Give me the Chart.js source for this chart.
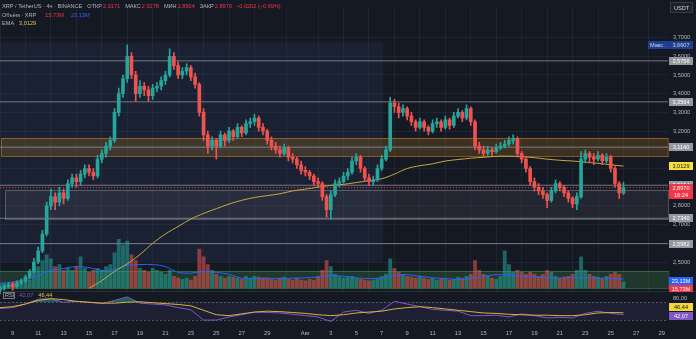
<!DOCTYPE html>
<html>
<head>
<meta charset="utf-8">
<script src="https://cdn.jsdelivr.net/npm/chart.js@4.4.1/dist/chart.umd.min.js"></script>
<style>
  html, body { margin: 0; padding: 0; background: #151924; }
  canvas { display: block; }
</style>
</head>
<body>
<canvas id="xrpChart" width="696" height="339"></canvas>
<script>
// 8h candles, days counted from 1 July (1 Aug = 32)
const candleStartDay = 8;
const candleStepDays = 1 / 3;

const opens = [
  2.35,2.36,2.37,2.38,2.37,2.39,2.40,2.42,2.45,2.50,
  2.56,2.65,2.80,2.85,2.82,2.87,2.84,2.92,2.95,2.93,
  2.97,3.00,2.98,2.96,3.05,3.08,3.12,3.15,3.30,3.40,
  3.48,3.60,3.50,3.40,3.44,3.42,3.39,3.43,3.44,3.47,
  3.50,3.60,3.55,3.50,3.52,3.54,3.49,3.45,3.30,3.18,
  3.12,3.15,3.12,3.18,3.15,3.20,3.17,3.22,3.19,3.24,
  3.25,3.27,3.22,3.20,3.15,3.12,3.10,3.08,3.11,3.06,
  3.05,3.02,2.99,2.98,2.96,2.93,2.92,2.85,2.78,2.86,
  2.92,2.93,2.96,2.98,3.04,3.06,3.00,2.95,2.93,2.94,
  3.00,3.05,3.10,3.35,3.33,3.30,3.32,3.28,3.25,3.22,
  3.25,3.22,3.20,3.24,3.25,3.22,3.26,3.23,3.28,3.30,
  3.27,3.32,3.25,3.12,3.10,3.08,3.10,3.09,3.11,3.12,
  3.13,3.15,3.16,3.08,3.05,3.00,2.93,2.90,2.88,2.86,
  2.83,2.88,2.92,2.90,2.87,2.84,2.81,2.85,3.05,3.08,
  3.06,3.05,3.07,3.04,3.06,3.00,2.92,2.87
];
const highs = [
  2.37,2.38,2.39,2.39,2.40,2.41,2.43,2.46,2.52,2.58,
  2.67,2.82,2.89,2.87,2.90,2.89,2.94,2.97,2.97,2.99,
  3.02,3.02,3.00,3.07,3.10,3.14,3.17,3.32,3.43,3.50,
  3.6607,3.62,3.52,3.47,3.46,3.44,3.45,3.46,3.49,3.52,
  3.64,3.62,3.57,3.54,3.56,3.55,3.51,3.46,3.32,3.20,
  3.17,3.16,3.20,3.19,3.22,3.21,3.24,3.23,3.26,3.27,
  3.29,3.28,3.24,3.21,3.17,3.14,3.12,3.13,3.12,3.08,
  3.06,3.04,3.01,2.99,2.97,2.95,2.93,2.86,2.88,2.94,
  2.95,2.98,3.00,3.06,3.08,3.07,3.01,2.97,2.96,3.02,
  3.07,3.12,3.38,3.37,3.35,3.34,3.33,3.30,3.26,3.27,
  3.26,3.23,3.26,3.27,3.26,3.28,3.27,3.30,3.32,3.31,
  3.34,3.33,3.26,3.14,3.12,3.12,3.11,3.13,3.14,3.15,
  3.17,3.18,3.17,3.09,3.06,3.01,2.95,2.92,2.90,2.87,
  2.90,2.94,2.93,2.91,2.88,2.85,2.87,3.09,3.10,3.09,
  3.08,3.09,3.08,3.08,3.07,3.01,2.93,2.9278
];
const lows = [
  2.33,2.35,2.36,2.35,2.36,2.38,2.39,2.41,2.44,2.49,
  2.55,2.64,2.78,2.78,2.80,2.81,2.83,2.90,2.90,2.91,
  2.95,2.96,2.94,2.95,3.03,3.06,3.10,3.14,3.28,3.38,
  3.46,3.48,3.36,3.38,3.39,3.36,3.37,3.41,3.42,3.45,
  3.49,3.53,3.48,3.48,3.50,3.47,3.43,3.28,3.15,3.08,
  3.10,3.05,3.11,3.12,3.14,3.15,3.16,3.17,3.18,3.22,
  3.23,3.20,3.18,3.13,3.10,3.08,3.06,3.07,3.04,3.03,
  3.00,2.97,2.96,2.94,2.91,2.90,2.83,2.74,2.73,2.85,
  2.90,2.92,2.94,2.97,3.02,2.98,2.93,2.91,2.91,2.93,
  2.99,3.04,3.09,3.30,3.27,3.28,3.26,3.23,3.20,3.21,
  3.20,3.18,3.19,3.22,3.20,3.21,3.21,3.22,3.27,3.25,
  3.26,3.23,3.10,3.08,3.06,3.07,3.07,3.08,3.10,3.11,
  3.12,3.13,3.06,3.03,2.98,2.91,2.88,2.86,2.84,2.79,
  2.82,2.87,2.88,2.85,2.82,2.79,2.78,2.84,3.03,3.03,
  3.02,3.04,3.02,3.03,2.98,2.90,2.84,2.8604
];
const closes = [
  2.36,2.37,2.38,2.37,2.39,2.40,2.42,2.45,2.50,2.56,
  2.65,2.80,2.85,2.82,2.87,2.84,2.92,2.95,2.93,2.97,
  3.00,2.98,2.96,3.05,3.08,3.12,3.15,3.30,3.40,3.48,
  3.60,3.50,3.40,3.44,3.42,3.39,3.43,3.44,3.47,3.50,
  3.60,3.55,3.50,3.52,3.54,3.49,3.45,3.30,3.18,3.12,
  3.15,3.12,3.18,3.15,3.20,3.17,3.22,3.19,3.24,3.25,
  3.27,3.22,3.20,3.15,3.12,3.10,3.08,3.11,3.06,3.05,
  3.02,2.99,2.98,2.96,2.93,2.92,2.85,2.78,2.86,2.92,
  2.93,2.96,2.98,3.04,3.06,3.00,2.95,2.93,2.94,3.00,
  3.05,3.10,3.35,3.33,3.30,3.32,3.28,3.25,3.22,3.25,
  3.22,3.20,3.24,3.25,3.22,3.26,3.23,3.28,3.30,3.27,
  3.32,3.25,3.12,3.10,3.08,3.10,3.09,3.11,3.12,3.13,
  3.15,3.16,3.08,3.05,3.00,2.93,2.90,2.88,2.86,2.83,
  2.88,2.92,2.90,2.87,2.84,2.81,2.85,3.05,3.08,3.06,
  3.05,3.07,3.04,3.06,3.00,2.92,2.87,2.897
];
// volume, millions XRP
const volumes = [
  10,12,8,14,10,12,16,20,40,55,
  70,85,75,55,60,45,50,45,55,80,
  50,40,45,50,45,55,60,90,125,110,
  120,85,70,50,45,40,50,45,40,35,
  45,30,25,22,25,20,30,100,80,60,
  45,35,30,25,30,28,25,22,30,25,
  30,28,25,25,22,20,25,28,22,20,
  25,20,18,22,20,30,45,70,55,35,
  30,25,28,30,25,22,20,18,20,25,
  30,35,75,50,40,35,30,28,25,30,
  25,22,25,20,22,25,20,22,28,25,
  30,35,70,45,35,30,25,22,30,95,
  60,40,45,40,35,40,35,30,35,45,
  40,30,25,28,30,35,45,80,45,35,
  30,28,25,30,35,40,35,15.73
];

const dailyDays = [
  8,9,10,11,12,13,14,15,16,17,18,19,20,21,22,23,24,25,26,27,28,29,30,31,
  32,33,34,35,36,37,38,39,40,41,42,43,44,45,46,47,48,49,50,51,52,53,54,55,56,57
];
const volumeMa = [
  12,15,22,32,45,50,55,52,45,48,58,60,60,55,40,38,42,40,35,25,24,25,24,25,
  26,28,32,30,26,24,25,32,34,30,26,24,22,24,30,34,33,30,28,26,25,27,26,25,24,23.13
];
const rsiValues = [
  56,58,66,77,78,70,72,70,67,74,82,68,66,64,58,53,30,30,37,42,48,47,46,43,
  40,37,27,48,52,45,52,72,66,60,54,52,50,40,40,41,37,44,40,35,36,35,45,50,45,42.07
];
const rsiMa = [
  58,60,66,74,78,76,72,70,68,68,70,71,69,67,65,62,52,42,40,44,48,50,49,47,
  45,42,40,42,46,48,50,55,58,60,58,55,52,49,46,45,43,42,41,41,40,40,42,46,47,46.44
];

const emaDays = [
  15,16,17,18,19,20,21,22,23,24,25,26,27,28,29,30,31,32,33,34,35,36,
  37,38,39,40,41,42,43,44,45,46,47,48,49,50,51,52,53,54,55,56,57
];
const emaValues = [
  2.36,2.40,2.45,2.49,2.54,2.60,2.65,2.69,2.73,2.76,2.785,2.81,2.83,2.845,2.855,2.865,2.88,2.89,2.90,2.91,2.915,2.925,
  2.935,2.945,2.97,3.00,3.015,3.025,3.04,3.048,3.055,3.06,3.065,3.066,3.063,3.058,3.05,3.044,3.04,3.034,3.028,3.02,3.0129
];

const xTickDays = [9,11,13,15,17,19,21,23,25,27,29,32,34,36,38,40,42,44,46,48,50,52,54,56,58,60];
const xTickLabels = ['9','11','13','15','17','19','21','23','25','27','29','Авг','3','5','7','9','11','13','15','17','19','21','23','25','27','29'];
const priceTicks = [3.7,3.6,3.5,3.4,3.3,3.2,3.1,3.0,2.9,2.8,2.7,2.6,2.5];

// horizontal levels drawn on the chart
const levelPrices = [3.5756, 3.3564, 3.1140, 2.9104, 2.7340, 2.5982];
const lastPrice = 2.8970;
const athPrice = 3.6607;
const emaLast = 3.0129;
const volLast = 15.73;
const volMaLast = 23.13;
const rsiLast = 42.07;
const rsiMaLast = 46.44;
const legendOhlc = { open: '2,9171', high: '2,9278', low: '2,8904', close: '2,8970', change: '−0,0202 (−0,69%)' };

// zones: [dayFrom, dayTo, priceTop, priceBottom]
const zoneHighlight = [7.9, 38.1, 3.674, 2.502];
const zoneOrange = [8.1, 61, 3.1635, 3.0646];
const zoneGray = [8.4, 61, 2.8875, 2.734];
const zoneVolume = [7.9, 61, 2.450, 2.361];

const UP = '#26a69a', DOWN = '#ef5350';
const FONT = '"Liberation Sans", Arial, sans-serif';
const fmt = (v, d) => v.toFixed(d).replace('.', ',');

const candleDays = closes.map((_, i) => candleStartDay + i * candleStepDays);
const isUp = closes.map((c, i) => c >= opens[i]);

const X_MIN = 8.0, X_MAX = 60.5;

function hLine(price, color, dash) {
  return {
    type: 'line', yAxisID: 'y', order: 6,
    data: [{ x: X_MIN, y: price }, { x: 61, y: price }],
    borderColor: color, borderWidth: 1, borderDash: dash || [],
    pointRadius: 0
  };
}

const datasets = [
  ...levelPrices.map(p => hLine(p, 'rgba(178,181,190,0.6)')),
  hLine(lastPrice, '#f23645', [1, 2]),
  {
    type: 'bar', yAxisID: 'yVol', order: 5, grouped: false,
    data: volumes.map((v, i) => ({ x: candleDays[i], y: v })),
    backgroundColor: isUp.map(u => u ? 'rgba(38,166,154,0.55)' : 'rgba(239,83,80,0.55)'),
    barThickness: 3.2
  },
  {
    type: 'line', yAxisID: 'yVol', order: 4,
    data: volumeMa.map((v, i) => ({ x: dailyDays[i], y: v })),
    borderColor: '#2962ff', borderWidth: 1, pointRadius: 0, tension: 0.3
  },
  {
    type: 'line', yAxisID: 'y', order: 3,
    data: emaValues.map((v, i) => ({ x: emaDays[i], y: v })),
    borderColor: '#c9a83d', borderWidth: 1, pointRadius: 0, tension: 0.3
  },
  {
    type: 'bar', yAxisID: 'y', order: 2, grouped: false,
    data: highs.map((h, i) => ({ x: candleDays[i], y: [lows[i], h] })),
    backgroundColor: isUp.map(u => u ? UP : DOWN),
    barThickness: 1
  },
  {
    type: 'bar', yAxisID: 'y', order: 1, grouped: false,
    data: closes.map((c, i) => ({ x: candleDays[i], y: [opens[i], c] })),
    backgroundColor: isUp.map(u => u ? UP : DOWN),
    barThickness: 3, minBarLength: 1
  },
  {
    type: 'line', yAxisID: 'yRsi', order: 1,
    data: rsiValues.map((v, i) => ({ x: dailyDays[i], y: v })),
    borderColor: 'rgba(0,0,0,0)', borderWidth: 0, pointRadius: 0,
    fill: { target: { value: 30 }, above: 'rgba(0,0,0,0)', below: 'rgba(239,83,80,0.45)' }
  },
  {
    type: 'line', yAxisID: 'yRsi', order: 0,
    data: rsiMa.map((v, i) => ({ x: dailyDays[i], y: v })),
    borderColor: '#d8b23a', borderWidth: 1, pointRadius: 0
  },
  {
    type: 'line', yAxisID: 'yRsi', order: 0,
    data: rsiValues.map((v, i) => ({ x: dailyDays[i], y: v })),
    borderColor: '#7e57c2', borderWidth: 1, pointRadius: 0,
    fill: { target: { value: 70 }, above: 'rgba(38,166,154,0.5)', below: 'rgba(0,0,0,0)' }
  }
];

function tag(ctx, text, yc, bg, fg, x0, w, h) {
  x0 = x0 || 669; w = w || 24; h = h || 8;
  ctx.fillStyle = bg;
  ctx.fillRect(x0, Math.round(yc - h / 2), w, h);
  ctx.fillStyle = fg;
  ctx.textAlign = 'center';
  ctx.textBaseline = 'middle';
  ctx.fillText(text, x0 + w / 2, yc + 0.5);
}

function legendRow(ctx, x, y, parts) {
  ctx.textAlign = 'left';
  ctx.textBaseline = 'middle';
  parts.forEach(([txt, col, gap]) => {
    ctx.fillStyle = col;
    ctx.fillText(txt, x, y);
    x += ctx.measureText(txt).width + (gap === undefined ? 4 : gap);
  });
}

const decor = {
  id: 'tvDecor',
  beforeDatasetsDraw(chart) {
    const { ctx, chartArea: a, scales } = chart;
    const x = scales.x, y = scales.y, r = scales.yRsi;
    const zone = (z, fill, stroke) => {
      const x0 = x.getPixelForValue(z[0]), x1 = Math.min(x.getPixelForValue(z[1]), a.right);
      const y0 = y.getPixelForValue(z[2]), y1 = y.getPixelForValue(z[3]);
      ctx.fillStyle = fill;
      ctx.fillRect(x0, y0, x1 - x0, y1 - y0);
      if (stroke) {
        ctx.strokeStyle = stroke;
        ctx.lineWidth = 1;
        ctx.strokeRect(Math.round(x0) + 0.5, Math.round(y0) + 0.5, x1 - x0, Math.round(y1 - y0));
      }
    };
    ctx.save();
    zone(zoneHighlight, 'rgba(70,110,180,0.10)');
    zone(zoneGray, 'rgba(120,123,134,0.14)', 'rgba(150,153,162,0.45)');
    zone(zoneOrange, 'rgba(200,130,30,0.22)', 'rgba(220,140,30,0.5)');
    zone(zoneVolume, 'rgba(76,175,80,0.20)', 'rgba(76,175,80,0.45)');
    // RSI pane
    const sep = r.getPixelForValue(95);
    ctx.fillStyle = '#151924';
    ctx.fillRect(0, sep, chart.width, a.bottom - sep);
    ctx.strokeStyle = '#2a2e39';
    ctx.beginPath(); ctx.moveTo(0, Math.round(sep) + 0.5); ctx.lineTo(chart.width, Math.round(sep) + 0.5); ctx.stroke();
    const r70 = r.getPixelForValue(70), r30 = r.getPixelForValue(30);
    ctx.fillStyle = 'rgba(126,87,194,0.10)';
    ctx.fillRect(0, r70, a.right, r30 - r70);
    ctx.strokeStyle = 'rgba(120,123,134,0.6)';
    ctx.setLineDash([2, 2]);
    [r70, r30].forEach(py => {
      ctx.beginPath(); ctx.moveTo(0, Math.round(py) + 0.5); ctx.lineTo(a.right, Math.round(py) + 0.5); ctx.stroke();
    });
    ctx.setLineDash([]);
    ctx.restore();
  },
  afterDraw(chart) {
    const { ctx, scales } = chart;
    const y = scales.y, v = scales.yVol, r = scales.yRsi;
    ctx.save();
    ctx.font = '5.6px ' + FONT;
    // legend
    legendRow(ctx, 2, 6, [
      ['XRP / TetherUS · 4ч · BINANCE', '#b2b5be', 5],
      ['ОТКР', '#b2b5be', 1], [legendOhlc.open, '#f23645', 5],
      ['МАКС', '#b2b5be', 1], [legendOhlc.high, '#f23645', 5],
      ['МИН', '#b2b5be', 1], [legendOhlc.low, '#f23645', 5],
      ['ЗАКР', '#b2b5be', 1], [legendOhlc.close, '#f23645', 4],
      [legendOhlc.change, '#f23645']
    ]);
    legendRow(ctx, 2, 15, [
      ['Объём · XRP', '#b2b5be', 9],
      [fmt(volLast, 2) + 'M', '#f23645', 7],
      [fmt(volMaLast, 2) + 'M', '#2962ff']
    ]);
    legendRow(ctx, 2, 23, [['EMA', '#b2b5be', 5], [fmt(emaLast, 4), '#e8c547']]);
    // RSI legend
    ctx.strokeStyle = 'rgba(178,181,190,0.6)';
    ctx.strokeRect(3.5, 292.5, 11, 6);
    legendRow(ctx, 5, 295.8, [
      ['RSI', '#b2b5be', 5], [fmt(rsiLast, 2), '#7e57c2', 5], [fmt(rsiMaLast, 2), '#e8c547']
    ]);
    // USDT box
    ctx.fillStyle = '#1e222d';
    ctx.fillRect(670, 2, 23, 11);
    ctx.strokeStyle = '#363a45';
    ctx.strokeRect(670.5, 2.5, 22, 10);
    ctx.fillStyle = '#d1d4dc';
    ctx.textAlign = 'center'; ctx.textBaseline = 'middle';
    ctx.fillText('USDT', 681.5, 8);
    // price tags
    const gray = '#9598a1';
    levelPrices.forEach(p => tag(ctx, fmt(p, 4), y.getPixelForValue(p), gray, '#ffffff'));
    tag(ctx, fmt(emaLast, 4), y.getPixelForValue(emaLast), '#f5e33b', '#131722');
    const yl = y.getPixelForValue(lastPrice);
    ctx.fillStyle = '#f23645';
    ctx.fillRect(669, Math.round(yl) - 4, 24, 15);
    ctx.fillStyle = '#ffffff';
    ctx.fillText(fmt(lastPrice, 4), 681, yl + 0.5);
    ctx.fillText('16:24', 681, yl + 7.5);
    // ATH tag
    const ya = y.getPixelForValue(athPrice);
    ctx.fillStyle = '#1e3f8f';
    ctx.fillRect(648, Math.round(ya) - 4, 45, 8);
    ctx.fillStyle = '#d1d4dc';
    ctx.textAlign = 'left';
    ctx.fillText('Макс.', 650, ya + 0.5);
    ctx.textAlign = 'center';
    ctx.fillText(fmt(athPrice, 4), 681, ya + 0.5);
    // volume tags
    tag(ctx, fmt(volLast, 2) + 'M', 289, '#f23645', '#ffffff');
    tag(ctx, fmt(volMaLast, 2) + 'M', v.getPixelForValue(volMaLast) + 2, '#2962ff', '#ffffff');
    // RSI pane axis
    const sep = r.getPixelForValue(95);
    ctx.fillStyle = '#151924';
    ctx.fillRect(668, sep + 1, 28, chart.chartArea.bottom - sep - 1);
    ctx.fillStyle = '#b2b5be';
    ctx.textAlign = 'left';
    ctx.fillText('80,00', 673, r.getPixelForValue(80) + 0.5);
    tag(ctx, fmt(rsiMaLast, 2), 307, '#f5d63d', '#131722');
    tag(ctx, fmt(rsiLast, 2), 316, '#7e57c2', '#ffffff');
    ctx.restore();
  }
};

// pixel layout of the reference: price 3.2 at y=126, 192 px per 1.0, plot bottom y=323
const PLOT_H = 323;
const priceMax = 3.2 + 126 / 192, priceMin = 3.2 - (PLOT_H - 126) / 192;
const rsiPx = 0.458, rsi70y = 301.7;
const rsiMax = 70 + rsi70y / rsiPx, rsiMin = 70 - (PLOT_H - rsi70y) / rsiPx;
const volPx = 2.5, volBaseY = 287;
const volMax = volBaseY * volPx, volMin = -(PLOT_H - volBaseY) * volPx;

const gridColor = 'rgba(42,46,57,0.55)';

new Chart(document.getElementById('xrpChart'), {
  data: { datasets },
  options: {
    responsive: false,
    animation: false,
    layout: { padding: 0 },
    plugins: { legend: { display: false }, tooltip: { enabled: false } },
    scales: {
      x: {
        type: 'linear', min: X_MIN, max: X_MAX, offset: false,
        afterBuildTicks: s => { s.ticks = xTickDays.map(d => ({ value: d })); },
        afterFit: s => { s.height = 339 - PLOT_H; },
        ticks: {
          autoSkip: false, maxRotation: 0, padding: 7, color: '#b2b5be',
          font: { size: 5.8, family: FONT },
          callback: v => xTickLabels[xTickDays.indexOf(v)]
        },
        grid: { color: gridColor, drawTicks: false },
        border: { display: false }
      },
      y: {
        position: 'right', min: priceMin, max: priceMax,
        afterBuildTicks: s => { s.ticks = priceTicks.map(p => ({ value: p })); },
        afterFit: s => { s.width = 28; },
        ticks: {
          padding: 5, color: '#b2b5be',
          font: { size: 5.6, family: FONT },
          callback: v => fmt(v, 4)
        },
        grid: { color: gridColor, drawTicks: false },
        border: { display: false }
      },
      yVol: { type: 'linear', axis: 'y', display: false, min: volMin, max: volMax },
      yRsi: { type: 'linear', axis: 'y', display: false, min: rsiMin, max: rsiMax }
    }
  },
  plugins: [decor]
});
</script>
</body>
</html>
